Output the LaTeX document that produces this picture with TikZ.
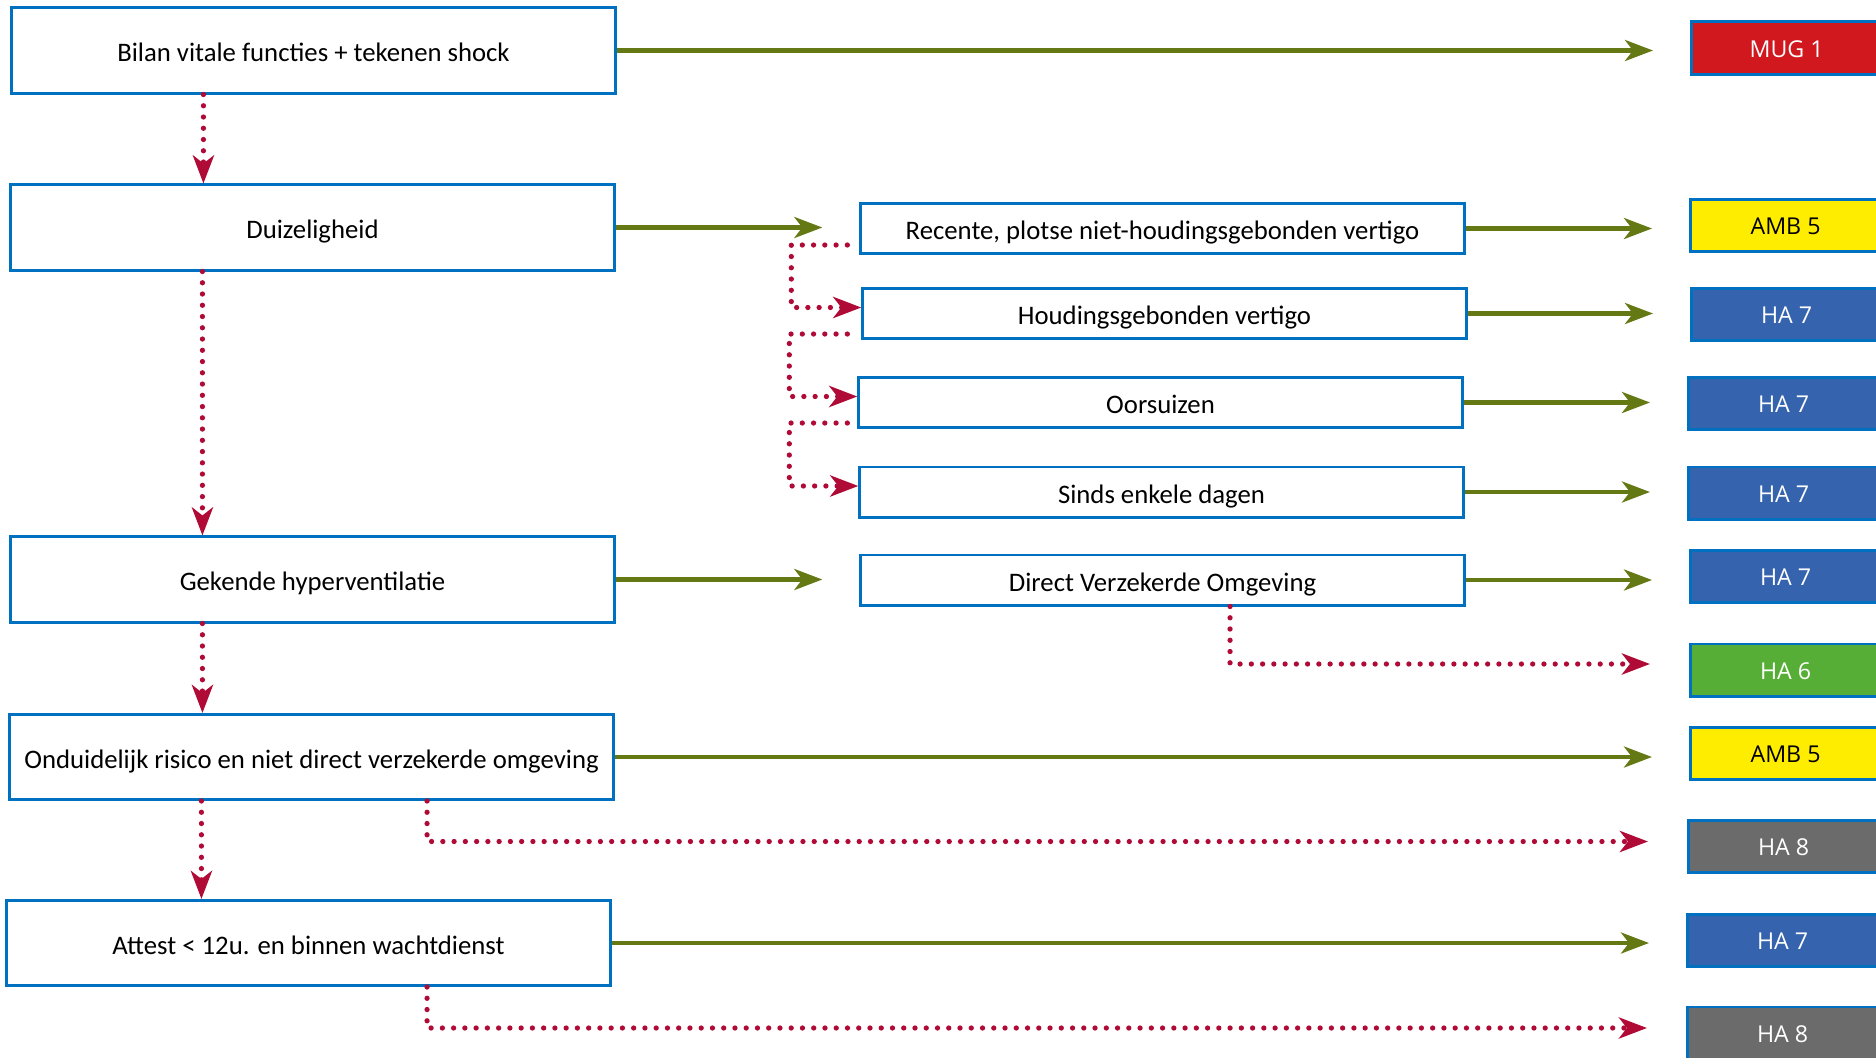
\documentclass[tikz,border=0pt]{standalone}
\usepackage{fontspec}
\setmainfont{Carlito}
\newfontfamily\codefont{Open Sans}
\usetikzlibrary{arrows.meta,positioning}
\definecolor{boxblue}{RGB}{0,112,192}
\definecolor{goolive}{RGB}{100,120,20}
\definecolor{nogored}{RGB}{176,10,54}
\definecolor{mugred}{RGB}{208,24,30}
\definecolor{ambyellow}{RGB}{255,237,0}
\definecolor{hablue}{RGB}{53,99,174}
\definecolor{hagreen}{RGB}{87,174,55}
\definecolor{hagray}{RGB}{107,107,107}

\begin{document}
\begin{tikzpicture}[x=0.01cm,y=-0.01cm,font=\fontsize{7.6}{9}\selectfont]
	\tikzset{
		box/.style={draw=boxblue,line width=0.85pt,fill=white,inner sep=0pt,minimum width=6.03cm,minimum height=0.85cm,text height=0.83em,text depth=0.2em},
		sub/.style={box,minimum height=0.5cm},
		code/.style={draw=boxblue,line width=0.85pt,inner sep=0pt,minimum width=1.9cm,minimum height=0.52cm,anchor=west,text=white,font=\codefont\fontsize{6.6}{8}\selectfont,text height=0.72em,text depth=0.2em},
		tip/.style={-{Stealth[length=0.28cm,width=0.21cm,inset=0.08cm]}},
		go/.style={draw=goolive,line width=1.2pt,tip,shorten >=0.37cm},
		nogo/.style={draw=nogored,line width=1.5pt,line cap=round,dash pattern=on 0pt off 3.2pt,tip}
	}
	\useasboundingbox (0,0) rectangle (1876,1057);
	\node[box] (bilan) at (313.5,50.5) {Bilan vitale functies + tekenen shock};
	\node[box] (duiz) at (312.5,227.5) {Duizeligheid};
	\node[box] (hyper) at (312.5,579.5) {Gekende hyperventilatie};
	\node[box] (ond) at (311.5,757) {Onduidelijk risico en niet direct verzekerde omgeving};
	\node[box] (attest) at (308.5,943) {Attest < 12u. en binnen wachtdienst};
	\node[sub] (rec) at (1162.5,228.5) {Recente, plotse niet-houdingsgebonden vertigo};
	\node[sub] (houd) at (1164.5,313.5) {Houdingsgebonden vertigo};
	\node[sub] (oor) at (1160.5,402.5) {Oorsuizen};
	\node[sub] (sinds) at (1161.5,492) {Sinds enkele dagen};
	\node[sub] (dvo) at (1162.5,580) {Direct Verzekerde Omgeving};
	\node[code,fill=mugred] (mug) at (1690,48) {MUG 1};
	\node[code,fill=ambyellow,text=black] (amb1) at (1689,225.5) {AMB 5};
	\node[code,fill=hablue] (ha7a) at (1690,314.5) {HA 7};
	\node[code,fill=hablue] (ha7b) at (1687,403.5) {HA 7};
	\node[code,fill=hablue] (ha7c) at (1687,493) {HA 7};
	\node[code,fill=hablue] (ha7d) at (1689,576.5) {HA 7};
	\node[code,fill=hagreen] (ha6) at (1689,670) {HA 6};
	\node[code,fill=ambyellow,text=black] (amb2) at (1689,753.5) {AMB 5};
	\node[code,fill=hagray] (ha8a) at (1687,846.5) {HA 8};
	\node[code,fill=hablue] (ha7e) at (1686,940.5) {HA 7};
	\node[code,fill=hagray] (ha8b) at (1686,1033) {HA 8};
	\draw[go] (bilan.east) -- (bilan.east -| mug.west);
	\draw[go] (duiz.east) -- (duiz.east -| rec.west);
	\draw[go] (hyper.east) -- (hyper.east -| dvo.west);
	\draw[go] (rec.east) -- (rec.east -| amb1.west);
	\draw[go] (houd.east) -- (houd.east -| ha7a.west);
	\draw[go] (oor.east) -- (oor.east -| ha7b.west);
	\draw[go] (sinds.east) -- (sinds.east -| ha7c.west);
	\draw[go] (dvo.east) -- (dvo.east -| ha7d.west);
	\draw[go] (ond.east) -- (ond.east -| amb2.west);
	\draw[go] (attest.east) -- (attest.east -| ha7e.west);
	\draw[nogo] ([xshift=-1.1cm]bilan.south) -- ([xshift=-1.1cm]bilan.south |- duiz.north);
	\draw[nogo] ([xshift=-1.1cm]duiz.south) -- ([xshift=-1.1cm]duiz.south |- hyper.north);
	\draw[nogo] ([xshift=-1.1cm]hyper.south) -- ([xshift=-1.1cm]hyper.south |- ond.north);
	\draw[nogo] ([xshift=-1.1cm]ond.south) -- ([xshift=-1.1cm]ond.south |- attest.north);
	\draw[nogo] ([xshift=-0.12cm,yshift=0.1cm]rec.south west) -- ++(-56,0) |- ([yshift=0.06cm]houd.west);
	\draw[nogo] ([xshift=-0.14cm,yshift=0.06cm]houd.south west) -- ++(-58,0) |- ([yshift=0.06cm]oor.west);
	\draw[nogo] ([xshift=-0.1cm,yshift=0.06cm]oor.south west) -- ++(-58,0) |- ([yshift=0.06cm]sinds.west);
	\draw[nogo,shorten >=0.39cm] ([xshift=0.675cm]dvo.south) |- ([yshift=0.06cm]ha6.west);
	\draw[nogo,shorten >=0.39cm] ([xshift=1.155cm]ond.south) |- ([yshift=0.05cm]ha8a.west);
	\draw[nogo,shorten >=0.39cm] ([xshift=1.185cm]attest.south) |- ([yshift=0.05cm]ha8b.west);
\end{tikzpicture}
\end{document}
